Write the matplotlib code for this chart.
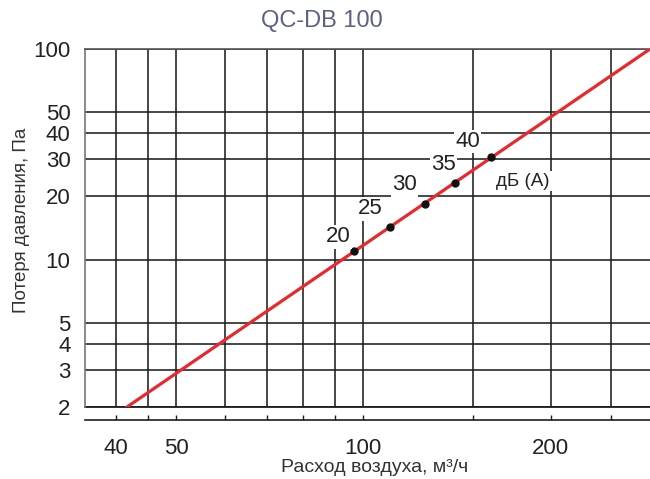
import matplotlib.pyplot as plt
from matplotlib.ticker import FixedLocator, FixedFormatter, NullLocator

plt.rcParams['font.family'] = ['Liberation Sans', 'DejaVu Sans']

# characteristic line (air flow m3/h -> pressure loss Pa)
line_flow = [41.7, 289]
line_pressure = [2, 100]

# noise level points on the curve
noise_db = [20, 25, 30, 35, 40]
noise_flow = [96.8, 110.2, 125.5, 140.6, 160.4]
noise_pressure = [11.0, 14.3, 18.4, 23.2, 30.8]

x_grid = [40, 45, 50, 60, 70, 80, 90, 100, 150, 200, 250]
x_labels = ['40', '', '50', '', '', '', '', '100', '', '200', '']
y_grid = [2, 3, 4, 5, 10, 20, 30, 40, 50, 100]
y_labels = ['2', '3', '4', '5', '10', '20', '30', '40', '50', '100']

# label offsets in pixels (dx, dy) relative to each dot
label_offsets = [(-16, 14), (-19, 18), (-20, 19), (-12, 18), (-23, 15)]

fig = plt.figure(figsize=(6.5, 4.79), dpi=100)
ax = fig.add_axes([85 / 650, 72 / 479, 1 - 85 / 650, 358 / 479])

ax.set_xscale('log')
ax.set_yscale('log')
ax.set_xlim(35.7, 289)
ax.set_ylim(2, 100)

grid_col = '#1e1e1e'
ax.xaxis.set_major_locator(FixedLocator(x_grid))
ax.xaxis.set_major_formatter(FixedFormatter(x_labels))
ax.xaxis.set_minor_locator(NullLocator())
ax.yaxis.set_major_locator(FixedLocator(y_grid))
ax.yaxis.set_major_formatter(FixedFormatter(y_labels))
ax.yaxis.set_minor_locator(NullLocator())

ax.grid(True, color=grid_col, linewidth=1.15)
ax.axhline(2, color=grid_col, linewidth=1.3, clip_on=False, zorder=2)

ax.spines['right'].set_visible(False)
ax.spines['top'].set_color('#555555')
ax.spines['top'].set_linewidth(1.2)
ax.spines['left'].set_color('#777777')
ax.spines['left'].set_linewidth(1.2)
ax.spines['bottom'].set_position(('outward', 9.4))
ax.spines['bottom'].set_color(grid_col)
ax.spines['bottom'].set_linewidth(1.2)

ax.tick_params(axis='x', direction='in', length=3.6, width=1, color=grid_col,
               pad=13, labelsize=16, labelcolor='#222222')
ax.tick_params(axis='y', length=0, pad=10.5, labelsize=16, labelcolor='#222222')

ax.plot(line_flow, line_pressure, color='#e8282d', linewidth=2.3, zorder=3)
ax.plot(noise_flow, noise_pressure, 'o', color='#111111', markersize=5, zorder=4)

for db, fx, py, (dx, dy) in zip(noise_db, noise_flow, noise_pressure, label_offsets):
    ax.annotate(str(db), (fx, py), xytext=(dx, dy), textcoords='offset pixels',
                ha='center', va='center', fontsize=16, color='#222222', zorder=5,
                bbox=dict(boxstyle='square,pad=0.05', fc='white', ec='none'))

fig.text(523 / 650, 1 - 181 / 479, 'дБ (A)', ha='center', va='center', fontsize=13.5,
         color='#222222', zorder=6,
         bbox=dict(boxstyle='square,pad=0.1', fc='white', ec='none'))

fig.text(322 / 650, 1 - 21 / 479, 'QC-DB 100', ha='center', va='center',
         fontsize=17, color='#5b6285')
fig.text(374.5 / 650, 1 - 468 / 479, 'Расход воздуха, м³/ч', ha='center', va='center',
         fontsize=14, color='#333333')
fig.text(22 / 650, 1 - 220 / 479, 'Потеря давления, Па', ha='center', va='center',
         rotation=90, fontsize=13.5, color='#333333')

fig.savefig('out.png', dpi=100)
